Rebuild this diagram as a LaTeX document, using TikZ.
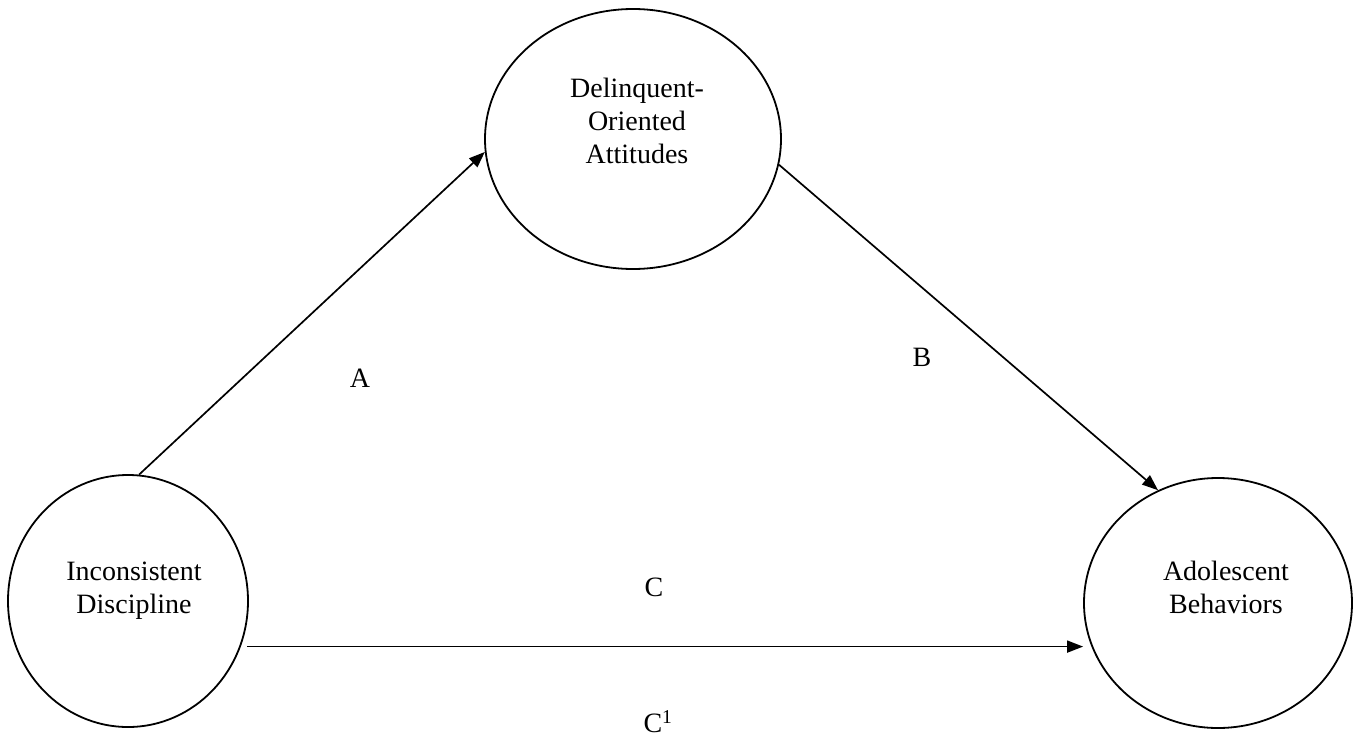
\documentclass[tikz,border=0pt]{standalone}
\usepackage{fontspec}
\setmainfont{Liberation Serif}
\usetikzlibrary{shapes.geometric,arrows.meta}

\begin{document}
\begin{tikzpicture}[x=1pt,y=-1pt,
    font=\fontsize{28}{33}\selectfont,
    blob/.style={draw, ellipse, line width=1.8pt, inner sep=0pt},
    txt/.style={align=center, inner sep=0pt},
    path/.style={line width=1.7pt, -{Triangle[length=16pt,width=12pt]}}]
    \useasboundingbox (0,0) rectangle (1358,739);
    \node[blob, minimum width=240pt, minimum height=252pt,
        label={[txt,xshift=6pt,yshift=10pt]center:Inconsistent\\Discipline}] (disc) at (128,601) {};
    \node[blob, minimum width=296pt, minimum height=260pt,
        label={[txt,xshift=4pt,yshift=18pt]center:Delinquent-\\Oriented\\Attitudes}] (att) at (633,139) {};
    \node[blob, minimum width=268pt, minimum height=250pt,
        label={[txt,xshift=8pt,yshift=16pt]center:Adolescent\\Behaviors}] (beh) at (1218,603) {};
    \node[txt] (a) at (360,378) {A};
    \node[txt] (b) at (922,357) {B};
    \node[txt] (c) at (654,587) {C};
    \node[txt] (c1) at (658,722) {C\textsuperscript{1}};
    \draw[path] (disc.85) -- (att.185);
    \draw[path] (att.-10) -- (beh.118);
    \draw[path, shorten <=6pt] (disc.-22.5) -- (disc.-22.5 -| beh.west);
\end{tikzpicture}
\end{document}
